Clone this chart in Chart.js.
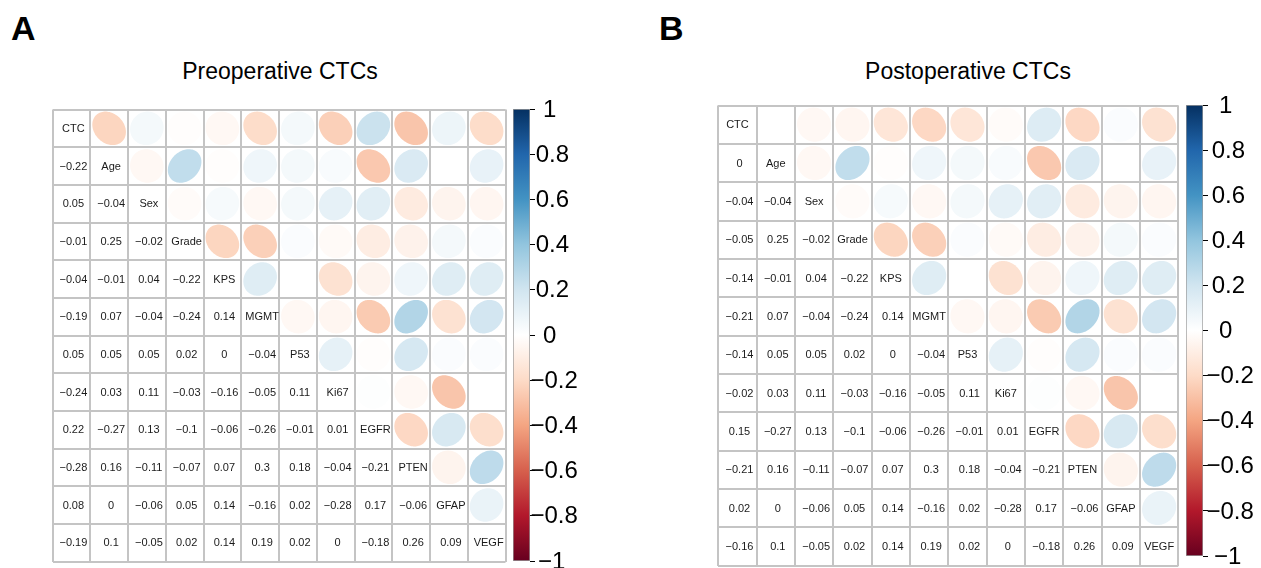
<!DOCTYPE html>
<html><head><meta charset="utf-8">
<script src="https://cdn.jsdelivr.net/npm/chart.js@4.4.0/dist/chart.umd.min.js"></script>
<style>
html,body{margin:0;padding:0;background:#fff;width:1261px;height:568px;overflow:hidden;font-family:"Liberation Sans",Arial,sans-serif;}
.abs{position:absolute;white-space:nowrap;}
.letter{font-weight:bold;font-size:34px;line-height:34px;color:#000;}
.title{font-size:23px;line-height:23px;color:#000;transform:translateX(-50%);}
canvas{position:absolute;}
</style></head><body>
<div class="abs letter" style="left:11px;top:11px">A</div>
<div class="abs letter" style="left:659px;top:11px">B</div>
<div class="abs title" style="left:280px;top:60px">Preoperative CTCs</div>
<div class="abs title" style="left:968px;top:60px">Postoperative CTCs</div>
<canvas id="mA" width="462" height="461" style="left:48px;top:105px;width:462px;height:461px"></canvas>
<canvas id="cA" width="77" height="480" style="left:513px;top:95px;width:77px;height:480px"></canvas>
<canvas id="mB" width="469" height="467" style="left:714px;top:101px;width:469px;height:467px"></canvas>
<canvas id="cB" width="75" height="478" style="left:1186px;top:91px;width:75px;height:478px"></canvas>
<script>
// ---- data ----
const variables = ["CTC","Age","Sex","Grade","KPS","MGMT","P53","Ki67","EGFR","PTEN","GFAP","VEGF"];
// correlation of CTC with Age..VEGF
const ctcPre  = [-0.22, 0.05, -0.01, -0.04, -0.19, 0.05, -0.24, 0.22, -0.28, 0.08, -0.19];
const ctcPost = [0, -0.04, -0.05, -0.14, -0.21, -0.14, -0.02, 0.15, -0.21, 0.02, -0.16];
// lower-triangle rows (without CTC column), shared by both panels
const rowAge  = [];
const rowSex  = [-0.04];
const rowGrade= [0.25, -0.02];
const rowKPS  = [-0.01, 0.04, -0.22];
const rowMGMT = [0.07, -0.04, -0.24, 0.14];
const rowP53  = [0.05, 0.05, 0.02, 0, -0.04];
const rowKi67 = [0.03, 0.11, -0.03, -0.16, -0.05, 0.11];
const rowEGFR = [-0.27, 0.13, -0.1, -0.06, -0.26, -0.01, 0.01];
const rowPTEN = [0.16, -0.11, -0.07, 0.07, 0.3, 0.18, -0.04, -0.21];
const rowGFAP = [0, -0.06, 0.05, 0.14, -0.16, 0.02, -0.28, 0.17, -0.06];
const rowVEGF = [0.1, -0.05, 0.02, 0.14, 0.19, 0.02, 0, -0.18, 0.26, 0.09];
const otherRows = [rowAge,rowSex,rowGrade,rowKPS,rowMGMT,rowP53,rowKi67,rowEGFR,rowPTEN,rowGFAP,rowVEGF];
const colorbarTicks = [-1,-0.8,-0.6,-0.4,-0.2,0,0.2,0.4,0.6,0.8,1];
const palette = ["#67001F","#B2182B","#D6604D","#F4A582","#FDDBC7","#FFFFFF","#D1E5F0","#92C5DE","#4393C3","#2166AC","#053061"];

// ---- helpers ----
function buildMatrix(ctc){
  const n = variables.length;
  const M = [];
  for(let i=0;i<n;i++){ M.push(new Array(n).fill(1)); }
  for(let i=1;i<n;i++){
    M[i][0]=ctc[i-1]; M[0][i]=ctc[i-1];
    const r = otherRows[i-1];
    for(let j=1;j<i;j++){ M[i][j]=r[j-1]; M[j][i]=r[j-1]; }
  }
  return M;
}
function hex2rgb(h){return [parseInt(h.substr(1,2),16),parseInt(h.substr(3,2),16),parseInt(h.substr(5,2),16)];}
const palRGB = palette.map(hex2rgb);
function colorFor(r){
  const t=(Math.max(-1,Math.min(1,r))+1)/2*(palette.length-1);
  const i=Math.min(Math.floor(t),palette.length-2), f=t-i;
  const a=palRGB[i], b=palRGB[i+1];
  return `rgb(${Math.round(a[0]+(b[0]-a[0])*f)},${Math.round(a[1]+(b[1]-a[1])*f)},${Math.round(a[2]+(b[2]-a[2])*f)})`;
}
function fmt(v){
  v=Math.round(v*100)/100;
  if(v===0) return "0";
  return String(v).replace("-","\u2212");
}
const FONT = '"Liberation Sans", Arial, sans-serif';
const GRID = '#c4c4c4';
const ELL_SCALE = 0.89;

const corrPlugin = {
  id:'corrDraw',
  afterDatasetsDraw(chart){
    const ctx=chart.ctx, xs=chart.scales.x, ys=chart.scales.y;
    const cw=Math.abs(xs.getPixelForValue(1)-xs.getPixelForValue(0));
    const ch=Math.abs(ys.getPixelForValue(1)-ys.getPixelForValue(0));
    ctx.save();
    chart.data.datasets.forEach((ds,di)=>{
      const meta=chart.getDatasetMeta(di);
      meta.data.forEach((el,k)=>{
        const p=ds.data[k];
        if(ds.kind==='ellipse'){
          const d=Math.acos(p.r);
          ctx.beginPath();
          const N=99;
          for(let s=0;s<N;s++){
            const t=2*Math.PI*s/(N-1);
            const px=el.x+ELL_SCALE*cw*Math.cos(t+d/2)/2;
            const py=el.y-ELL_SCALE*ch*Math.cos(t-d/2)/2;
            if(s===0) ctx.moveTo(px,py); else ctx.lineTo(px,py);
          }
          ctx.closePath();
          ctx.fillStyle=colorFor(p.r);
          ctx.fill();
        } else {
          ctx.font='11px '+FONT;
          ctx.fillStyle='#1a1a1a';
          ctx.textAlign='center';
          ctx.textBaseline='middle';
          ctx.fillText(p.label, el.x+(ds.dx||0), el.y+0.5);
        }
      });
    });
    ctx.restore();
  }
};

function makeMatrix(id, ctc, pad, dxNum, dxDiag){
  const M=buildMatrix(ctc);
  const n=variables.length;
  const upper=[], lower=[], diag=[];
  for(let i=0;i<n;i++) for(let j=0;j<n;j++){
    if(j>i) upper.push({x:j+0.5,y:i+0.5,r:M[i][j]});
    else if(j<i) lower.push({x:j+0.5,y:i+0.5,label:fmt(M[i][j])});
    else diag.push({x:j+0.5,y:i+0.5,label:variables[i]});
  }
  const axis=(rev)=>({type:'linear',min:0,max:n,reverse:rev,
    ticks:{stepSize:1,display:false},
    grid:{color:GRID,lineWidth:2,drawTicks:false},
    border:{display:false}});
  return new Chart(document.getElementById(id),{
    type:'scatter',
    data:{datasets:[
      {kind:'ellipse',data:upper,pointRadius:0,pointHoverRadius:0},
      {kind:'text',dx:dxNum,data:lower,pointRadius:0,pointHoverRadius:0},
      {kind:'text',dx:dxDiag,data:diag,pointRadius:0,pointHoverRadius:0}
    ]},
    options:{responsive:false,animation:false,events:[],
      layout:{padding:pad},
      plugins:{legend:{display:false},tooltip:{enabled:false}},
      scales:{x:axis(false),y:axis(true)}},
    plugins:[corrPlugin]
  });
}

// tick labels of the colour bar, placed at the scale's tick positions (adj ~0.37 like R's text)
const cbLabelPlugin = {
  id:'cbLabels',
  afterDraw(chart){
    const s=chart.scales.y, ctx=chart.ctx;
    const x0=s.left+chart.options.plugins.cbLabels.x0;
    ctx.save();
    ctx.font='24px '+FONT; ctx.fillStyle='#000'; ctx.textAlign='left'; ctx.textBaseline='middle';
    s.ticks.forEach(t=>{
      const lab=fmt(Math.round(t.value*10)/10);
      const w=ctx.measureText(lab).width;
      ctx.fillText(lab, x0-0.37*w, s.getPixelForValue(t.value)+1);
    });
    ctx.restore();
  }
};

function makeColorbar(id, pad, axisW, x0){
  return new Chart(document.getElementById(id),{
    type:'bar',
    data:{labels:[''],datasets:[{
      data:[[colorbarTicks[0],colorbarTicks[colorbarTicks.length-1]]],
      backgroundColor:(c)=>{
        const a=c.chart.chartArea; if(!a) return '#fff';
        const g=c.chart.ctx.createLinearGradient(0,a.bottom,0,a.top);
        palette.forEach((col,i)=>g.addColorStop(i/(palette.length-1),col));
        return g;
      },
      borderColor:'#9a9a9a',borderWidth:1,borderSkipped:false,
      barPercentage:1,categoryPercentage:1}]},
    options:{responsive:false,animation:false,events:[],
      layout:{padding:pad},
      plugins:{legend:{display:false},tooltip:{enabled:false},cbLabels:{x0:x0}},
      scales:{
        x:{display:false},
        y:{position:'right',min:-1,max:1,
          afterBuildTicks:(s)=>{s.ticks=colorbarTicks.map(v=>({value:v}));},
          ticks:{display:false},
          grid:{drawOnChartArea:false,drawTicks:true,tickLength:5,color:'#000',tickColor:'#000',lineWidth:1},
          border:{display:false},
          afterFit:(s)=>{s.width=axisW;}}
      }},
    plugins:[cbLabelPlugin]
  });
}

makeMatrix('mA', ctcPre, {left:4.5,top:4.5,right:4.5,bottom:4.5}, 2, 2);
makeColorbar('cA', {left:0,right:0,top:14,bottom:14}, 60, 18);
makeMatrix('mB', ctcPost, {left:4.3,top:4.5,right:4.7,bottom:2.5}, 2, 0);
makeColorbar('cB', {left:0,right:0,top:14,bottom:13}, 58, 21);
</script>
</body></html>
